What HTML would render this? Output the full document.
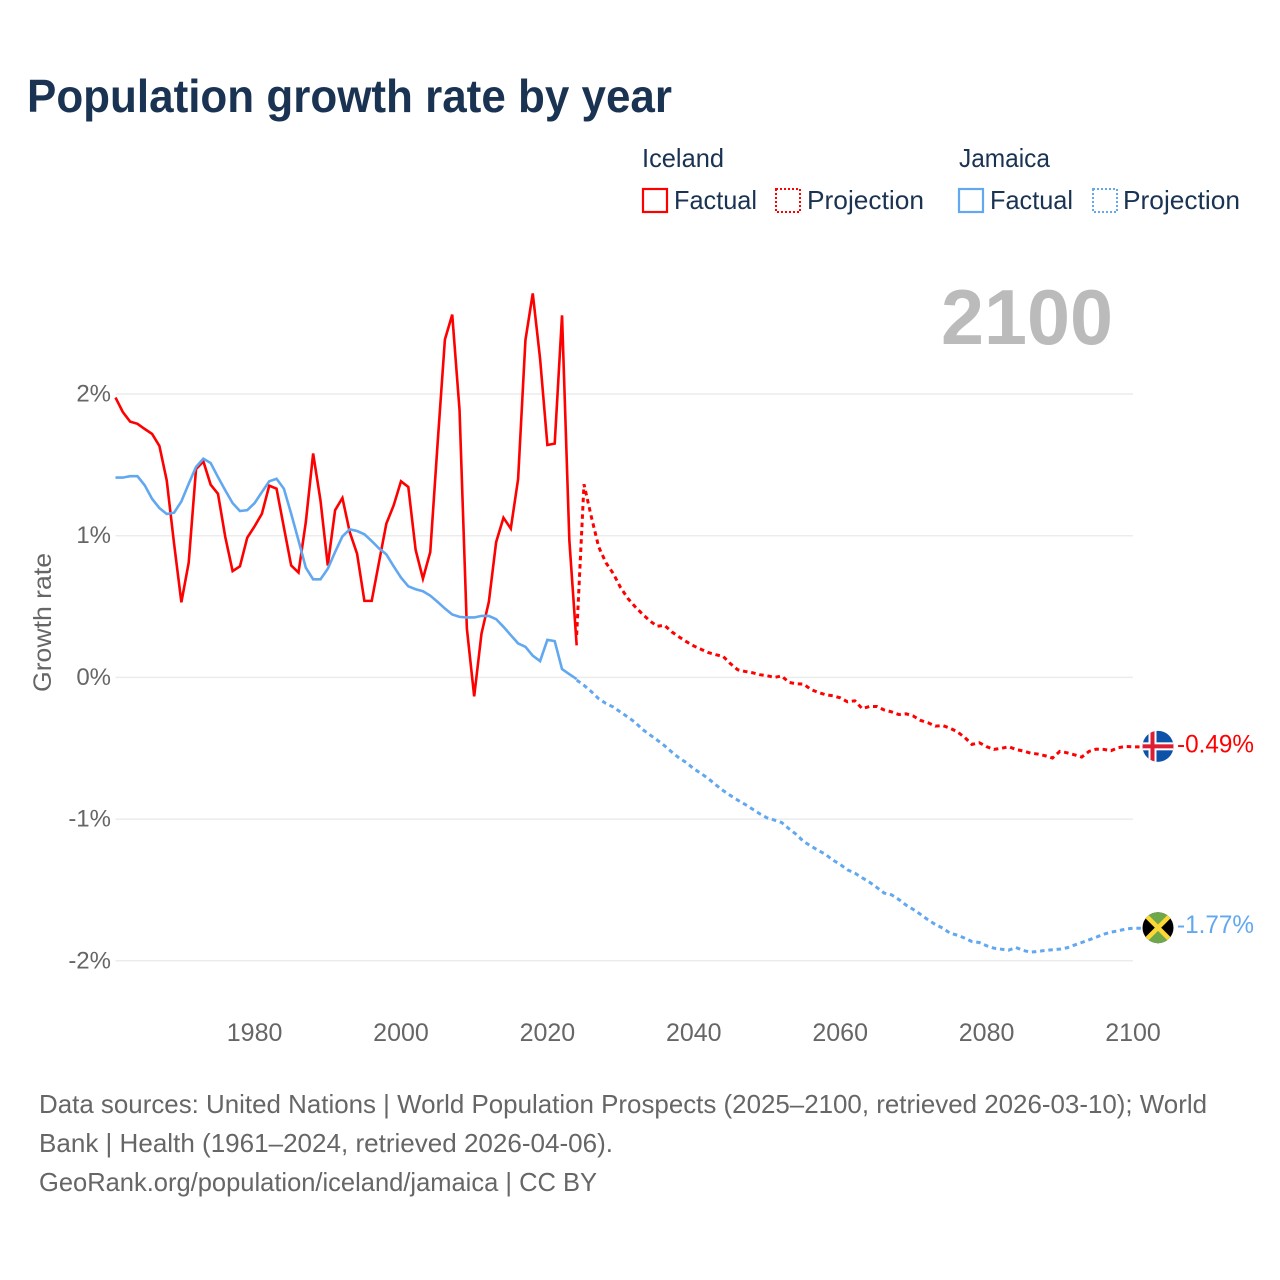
<!DOCTYPE html>
<html lang="en">
<head>
<meta charset="utf-8">
<title>Population growth rate by year</title>
<style>
html,body{margin:0;padding:0;background:#fff;width:1280px;height:1280px;overflow:hidden}
svg{display:block}
text{font-family:"Liberation Sans",sans-serif}
</style>
</head>
<body>
<svg id="chart" xmlns="http://www.w3.org/2000/svg" width="1280" height="1280" viewBox="0 0 1280 1280">
  <text x="27" y="112" font-size="46" font-weight="700" fill="#1a3353" textLength="645" lengthAdjust="spacingAndGlyphs">Population growth rate by year</text>

  <g font-size="26" fill="#1a3353">
    <text x="642" y="167" textLength="82" lengthAdjust="spacingAndGlyphs">Iceland</text>
    <text x="959" y="167" textLength="91" lengthAdjust="spacingAndGlyphs">Jamaica</text>
    <g>
      <rect x="643" y="189" width="24" height="23" fill="none" stroke="#ff0000" stroke-width="2.2"/>
      <text x="674" y="209" textLength="83" lengthAdjust="spacingAndGlyphs">Factual</text>
    </g>
    <g>
      <rect x="776" y="189" width="24" height="23" fill="none" stroke="#ff0000" stroke-width="2" stroke-dasharray="2 2"/>
      <text x="807" y="209" textLength="117" lengthAdjust="spacingAndGlyphs">Projection</text>
    </g>
    <g>
      <rect x="959" y="189" width="24" height="23" fill="none" stroke="#62a8f0" stroke-width="2.2"/>
      <text x="990" y="209" textLength="83" lengthAdjust="spacingAndGlyphs">Factual</text>
    </g>
    <g>
      <rect x="1093" y="189" width="24" height="23" fill="none" stroke="#62a8f0" stroke-width="2" stroke-dasharray="2 2"/>
      <text x="1123" y="209" textLength="117" lengthAdjust="spacingAndGlyphs">Projection</text>
    </g>
  </g>

  <text x="941" y="344" font-size="78" font-weight="700" fill="#bbbbbb" textLength="172" lengthAdjust="spacingAndGlyphs">2100</text>

  <g id="grid"></g>
  <g id="yticks" font-size="24" fill="#666666" text-anchor="end"></g>
  <g id="xticks" font-size="25" fill="#666666" text-anchor="middle"></g>
  <text transform="translate(51 692) rotate(-90)" font-size="25" fill="#666666" textLength="139" lengthAdjust="spacingAndGlyphs">Growth rate</text>

  <g id="series"></g>

  <defs>
    <clipPath id="flag-clip"><circle cx="0" cy="0" r="15.5"/></clipPath>
  </defs>
  <g id="flag-iceland" clip-path="url(#flag-clip)">
    <rect x="-16" y="-16" width="32" height="32" fill="#0b52a8"/>
    <rect x="-9.5" y="-16" width="8" height="32" fill="#ffffff"/>
    <rect x="-16" y="-4" width="32" height="8" fill="#ffffff"/>
    <rect x="-7.5" y="-16" width="4" height="32" fill="#dc1e35"/>
    <rect x="-16" y="-2" width="32" height="4" fill="#dc1e35"/>
  </g>
  <g id="flag-jamaica" clip-path="url(#flag-clip)">
    <rect x="-16" y="-16" width="32" height="32" fill="#000000"/>
    <polygon points="-16,-16 16,-16 0,0" fill="#6fa84a"/>
    <polygon points="-16,16 16,16 0,0" fill="#6fa84a"/>
    <line x1="-16" y1="-16" x2="16" y2="16" stroke="#fdd835" stroke-width="4.5"/>
    <line x1="16" y1="-16" x2="-16" y2="16" stroke="#fdd835" stroke-width="4.5"/>
  </g>
  <text id="end-label-iceland" x="1177" y="753" font-size="25" fill="#ff0000" textLength="77" lengthAdjust="spacingAndGlyphs"></text>
  <text id="end-label-jamaica" x="1177" y="934" font-size="25" fill="#62a8f0" textLength="77" lengthAdjust="spacingAndGlyphs"></text>

  <g font-size="26" fill="#666666">
    <text x="39" y="1113" textLength="1168" lengthAdjust="spacingAndGlyphs">Data sources: United Nations | World Population Prospects (2025–2100, retrieved 2026-03-10); World</text>
    <text x="39" y="1152" textLength="574" lengthAdjust="spacingAndGlyphs">Bank | Health (1961–2024, retrieved 2026-04-06).</text>
    <text x="39" y="1191" textLength="558" lengthAdjust="spacingAndGlyphs">GeoRank.org/population/iceland/jamaica | CC BY</text>
  </g>
</svg>

<script>
const factualStartYear = 1961;
const projectionStartYear = 2024;
const yTickValues = [2, 1, 0, -1, -2];
const xTickYears = [1980, 2000, 2020, 2040, 2060, 2080, 2100];

const icelandFactual = [
  1.975, 1.873, 1.805, 1.79, 1.753, 1.718, 1.633, 1.39, 0.944, 0.53,
  0.81, 1.47, 1.525, 1.36, 1.296, 0.99, 0.75, 0.784, 0.986, 1.066,
  1.155, 1.353, 1.332, 1.06, 0.79, 0.74, 1.096, 1.58, 1.25, 0.79,
  1.18, 1.266, 1.026, 0.873, 0.54, 0.54, 0.814, 1.085, 1.214, 1.384,
  1.344, 0.9, 0.697, 0.885, 1.65, 2.385, 2.56, 1.885, 0.345, -0.134,
  0.31, 0.533, 0.955, 1.127, 1.05, 1.4, 2.38, 2.71, 2.25, 1.64,
  1.65, 2.555, 0.967, 0.226
];

const jamaicaFactual = [
  1.41, 1.41, 1.42, 1.42, 1.355, 1.26, 1.195, 1.153, 1.162, 1.242,
  1.367, 1.485, 1.544, 1.513, 1.414, 1.32, 1.23, 1.174, 1.18, 1.23,
  1.308, 1.384, 1.402, 1.332, 1.155, 0.967, 0.774, 0.692, 0.692, 0.767,
  0.885, 0.995, 1.045, 1.033, 1.01, 0.962, 0.91, 0.868, 0.784, 0.704,
  0.643, 0.622, 0.608, 0.577, 0.533, 0.486, 0.444, 0.427, 0.423, 0.423,
  0.434, 0.434, 0.411, 0.357, 0.298, 0.24, 0.216, 0.153, 0.115, 0.265,
  0.256, 0.059, 0.023, -0.012
];

const icelandProjection = [
  0.3, 1.363, 1.134, 0.922, 0.809, 0.733, 0.634, 0.557, 0.498, 0.446,
  0.399, 0.361, 0.368, 0.321, 0.285, 0.252, 0.222, 0.198, 0.175, 0.16,
  0.149, 0.097, 0.054, 0.042, 0.033, 0.019, 0.012, 0.0, 0.01, -0.035,
  -0.045, -0.047, -0.085, -0.106, -0.122, -0.13, -0.144, -0.172, -0.165, -0.22,
  -0.205, -0.205, -0.23, -0.243, -0.262, -0.257, -0.273, -0.304, -0.32, -0.344,
  -0.34, -0.358, -0.384, -0.423, -0.473, -0.461, -0.489, -0.508, -0.501, -0.489,
  -0.508, -0.52, -0.534, -0.541, -0.553, -0.569, -0.522, -0.532, -0.546, -0.562,
  -0.522, -0.506, -0.508, -0.517, -0.496, -0.487, -0.49
];

const jamaicaProjection = [
  -0.019, -0.056, -0.1, -0.15, -0.184, -0.209, -0.245, -0.28, -0.318, -0.367,
  -0.405, -0.442, -0.482, -0.527, -0.569, -0.602, -0.645, -0.678, -0.715, -0.758,
  -0.798, -0.833, -0.866, -0.896, -0.929, -0.962, -0.991, -1.007, -1.024, -1.068,
  -1.108, -1.158, -1.19, -1.221, -1.249, -1.289, -1.32, -1.358, -1.381, -1.414,
  -1.445, -1.482, -1.522, -1.534, -1.567, -1.607, -1.638, -1.673, -1.711, -1.744,
  -1.769, -1.805, -1.819, -1.84, -1.864, -1.871, -1.894, -1.911, -1.918, -1.925,
  -1.906, -1.927, -1.939, -1.934, -1.927, -1.922, -1.918, -1.908, -1.889, -1.871,
  -1.852, -1.833, -1.812, -1.798, -1.788, -1.776, -1.77
];

const SVG_NS = 'http://www.w3.org/2000/svg';
const PLOT_LEFT = 115.5;
const PLOT_RIGHT = 1133;
const FLAG_X = 1158;

function xScale(year) {
  return PLOT_LEFT + (year - factualStartYear) * (PLOT_RIGHT - PLOT_LEFT) / (2100 - factualStartYear);
}
function yScale(value) {
  return 677.4 - value * 141.7;
}
function pathFor(values, startYear) {
  return values.map(function (v, i) {
    return (i ? 'L' : 'M') + xScale(startYear + i).toFixed(2) + ' ' + yScale(v).toFixed(2);
  }).join(' ');
}
function formatTick(v) {
  return v + '%';
}

const gridGroup = document.getElementById('grid');
const yTickGroup = document.getElementById('yticks');
yTickValues.forEach(function (v) {
  const line = document.createElementNS(SVG_NS, 'line');
  
  
  line.setAttribute('x1', PLOT_LEFT);
  line.setAttribute('x2', PLOT_RIGHT);
  line.setAttribute('y1', yScale(v));
  line.setAttribute('y2', yScale(v));
  line.setAttribute('stroke', '#ececec');
  line.setAttribute('stroke-width', '1.5');
  gridGroup.appendChild(line);

  const label = document.createElementNS(SVG_NS, 'text');
  
  
  label.setAttribute('x', 111);
  label.setAttribute('y', yScale(v) + 7.5);
  label.textContent = formatTick(v);
  yTickGroup.appendChild(label);
});

const xTickGroup = document.getElementById('xticks');
xTickYears.forEach(function (year) {
  const label = document.createElementNS(SVG_NS, 'text');
  
  
  label.setAttribute('x', xScale(year));
  label.setAttribute('y', 1041);
  label.textContent = String(year);
  xTickGroup.appendChild(label);
});

const seriesGroup = document.getElementById('series');

const icelandFactualLine = document.createElementNS(SVG_NS, 'path');


icelandFactualLine.setAttribute('d', pathFor(icelandFactual, factualStartYear));
icelandFactualLine.setAttribute('fill', 'none');
icelandFactualLine.setAttribute('stroke', '#ff0000');
icelandFactualLine.setAttribute('stroke-width', '2.6');
seriesGroup.appendChild(icelandFactualLine);

const icelandProjectionLine = document.createElementNS(SVG_NS, 'path');


icelandProjectionLine.setAttribute('d', pathFor(icelandProjection, projectionStartYear) + ' L' + FLAG_X + ' ' + yScale(icelandProjection[icelandProjection.length - 1]).toFixed(2));
icelandProjectionLine.setAttribute('fill', 'none');
icelandProjectionLine.setAttribute('stroke', '#ff0000');
icelandProjectionLine.setAttribute('stroke-width', '3');
icelandProjectionLine.setAttribute('stroke-dasharray', '4.5 3.8');
seriesGroup.appendChild(icelandProjectionLine);

const jamaicaFactualLine = document.createElementNS(SVG_NS, 'path');


jamaicaFactualLine.setAttribute('d', pathFor(jamaicaFactual, factualStartYear));
jamaicaFactualLine.setAttribute('fill', 'none');
jamaicaFactualLine.setAttribute('stroke', '#62a8f0');
jamaicaFactualLine.setAttribute('stroke-width', '2.6');
seriesGroup.appendChild(jamaicaFactualLine);

const jamaicaProjectionLine = document.createElementNS(SVG_NS, 'path');


jamaicaProjectionLine.setAttribute('d', pathFor(jamaicaProjection, projectionStartYear) + ' L' + FLAG_X + ' ' + yScale(jamaicaProjection[jamaicaProjection.length - 1]).toFixed(2));
jamaicaProjectionLine.setAttribute('fill', 'none');
jamaicaProjectionLine.setAttribute('stroke', '#62a8f0');
jamaicaProjectionLine.setAttribute('stroke-width', '3');
jamaicaProjectionLine.setAttribute('stroke-dasharray', '4.5 3.8');
seriesGroup.appendChild(jamaicaProjectionLine);

const icelandLast = icelandProjection[icelandProjection.length - 1];
const jamaicaLast = jamaicaProjection[jamaicaProjection.length - 1];
document.getElementById('flag-iceland').setAttribute('transform', 'translate(' + FLAG_X + ' ' + (yScale(icelandLast) - 0.5) + ')');
document.getElementById('flag-jamaica').setAttribute('transform', 'translate(' + FLAG_X + ' ' + (yScale(jamaicaLast) - 0.5) + ')');
const icelandEndLabel = document.getElementById('end-label-iceland');
icelandEndLabel.setAttribute('y', yScale(icelandLast) + 5.5);
icelandEndLabel.textContent = icelandLast.toFixed(2) + '%';
const jamaicaEndLabel = document.getElementById('end-label-jamaica');
jamaicaEndLabel.setAttribute('y', yScale(jamaicaLast) + 5);
jamaicaEndLabel.textContent = jamaicaLast.toFixed(2) + '%';
</script>
</body>
</html>
